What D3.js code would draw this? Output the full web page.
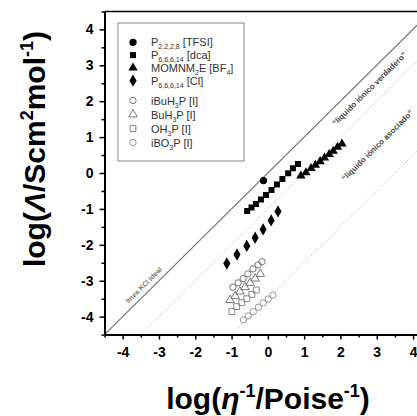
<!DOCTYPE html>
<html>
<head>
<meta charset="utf-8">
<script src="https://cdn.jsdelivr.net/npm/d3@7"></script>
<style>
  body { margin: 0; background: #fff; }
  svg { display: block; font-family: "Liberation Sans", Arial, sans-serif; }
</style>
</head>
<body>
<div id="chart"></div>
<script>
// --- data (log fluidity vs log molar conductivity) ---
const tfsiX = [-0.12];
const tfsiY = [-0.21];
const dcaX = [-0.57, -0.45, -0.33, -0.19, -0.05, 0.10, 0.25, 0.40, 0.56, 0.69, 0.83];
const dcaY = [-1.06, -0.96, -0.86, -0.74, -0.61, -0.47, -0.32, -0.17, -0.01, 0.13, 0.25];
const bf4X = [0.91, 1.05, 1.19, 1.31, 1.44, 1.56, 1.69, 1.80, 1.92, 2.04];
const bf4Y = [-0.08, 0.01, 0.13, 0.22, 0.32, 0.42, 0.52, 0.61, 0.72, 0.81];
const clX = [-1.13, -0.85, -0.58, -0.35, -0.13, 0.09, 0.28];
const clY = [-2.52, -2.27, -2.03, -1.80, -1.57, -1.32, -1.07];
const ibuX = [-0.96, -0.82, -0.68, -0.55, -0.41, -0.27, -0.16];
const ibuY = [-3.18, -3.06, -2.94, -2.81, -2.67, -2.56, -2.47];
const buX = [-1.04, -0.90, -0.77, -0.63, -0.49, -0.35, -0.21];
const buY = [-3.54, -3.43, -3.30, -3.18, -3.06, -2.94, -2.81];
const ohX = [-0.99, -0.86, -0.72, -0.58, -0.44, -0.32];
const ohY = [-3.86, -3.72, -3.61, -3.50, -3.38, -3.26];
const iboX = [-0.67, -0.54, -0.40, -0.26, -0.13, 0.01, 0.14];
const iboY = [-4.09, -3.98, -3.86, -3.74, -3.62, -3.51, -3.40];

// legend labels: [text, subscript?]
const legendLabels = [
  [["P"], ["2,2,2,8", 1], [" [TFSI]"]],
  [["P"], ["6,6,6,14", 1], [" [dca]"]],
  [["MOMNM"], ["2", 1], ["E [BF"], ["4", 1], ["]"]],
  [["P"], ["6,6,6,14", 1], [" [Cl]"]],
  [["iBuH"], ["3", 1], ["P [I]"]],
  [["BuH"], ["3", 1], ["P [I]"]],
  [["OH"], ["3", 1], ["P [I]"]],
  [["iBO"], ["3", 1], ["P [I]"]]
];

const majorTicks = [-4, -3, -2, -1, 0, 1, 2, 3, 4];
const minorTicks = [-4.5, -3.5, -2.5, -1.5, -0.5, 0.5, 1.5, 2.5, 3.5, 4.5];
const lineOffsets = [0, -1, -3.5];   // log Λ = log η⁻¹ + offset
const annotations = [
  {text: "linea KCl ideal", x: -3.42, off: 0.3},
  {text: "\u201cliquido iónico verdadero\u201d", x: 2.8, off: -0.45},
  {text: "\u201cliquido iónico asociado\u201d", x: 3.02, off: -2.25}
];

const W = 417, H = 416;
const svg = d3.select("#chart").append("svg").attr("width", W).attr("height", H);

const x = d3.scaleLinear().domain([-4.5, 4.5]).range([104.5, 431.2]);
const y = d3.scaleLinear().domain([-4.5, 4.5]).range([334.6, 11.4]);

svg.append("clipPath").attr("id", "plot")
  .append("rect").attr("x", x(-4.5)).attr("y", y(4.5))
  .attr("width", x(4.5) - x(-4.5)).attr("height", y(-4.5) - y(4.5));

const plot = svg.append("g").attr("clip-path", "url(#plot)");

// reference lines
lineOffsets.forEach((o, i) => {
  plot.append("line")
    .attr("x1", x(-4.5)).attr("y1", y(-4.5 + o))
    .attr("x2", x(4.5)).attr("y2", y(4.5 + o))
    .attr("stroke", i === 0 ? "#777" : "#aaa")
    .attr("stroke-width", i === 0 ? 1.2 : 1)
    .attr("stroke-dasharray", i === 0 ? null : "1,2");
});

// annotations along the lines
const ang = Math.atan2(y(1) - y(0), x(1) - x(0)) * 180 / Math.PI;
annotations.forEach((a, i) => {
  plot.append("text")
    .attr("transform", `translate(${x(a.x)},${y(a.x + a.off)}) rotate(${ang})`)
    .attr("text-anchor", "middle").attr("dy", "0.35em")
    .attr("font-size", i === 0 ? 7 : 8).attr("font-weight", "bold")
    .attr("fill", i === 0 ? "#777" : "#444")
    .text(a.text);
});

// series
const series = [
  {xs: iboX, ys: iboY, type: d3.symbolCircle, size: 32, fill: "none", stroke: "#999"},
  {xs: ohX, ys: ohY, type: d3.symbolSquare, size: 34, fill: "none", stroke: "#888"},
  {xs: buX, ys: buY, type: d3.symbolTriangle, size: 32, fill: "none", stroke: "#777"},
  {xs: ibuX, ys: ibuY, type: d3.symbolCircle, size: 32, fill: "none", stroke: "#777"},
  {xs: clX, ys: clY, type: d3.symbolDiamond, size: 44, fill: "#000", stroke: "none"},
  {xs: dcaX, ys: dcaY, type: d3.symbolSquare, size: 36, fill: "#000", stroke: "none"},
  {xs: bf4X, ys: bf4Y, type: d3.symbolTriangle, size: 38, fill: "#000", stroke: "none"},
  {xs: tfsiX, ys: tfsiY, type: d3.symbolCircle, size: 42, fill: "#000", stroke: "none"}
];

series.forEach(s => {
  plot.append("g").selectAll("path")
    .data(s.xs.map((v, i) => [v, s.ys[i]]))
    .enter().append("path")
    .attr("transform", d => `translate(${x(d[0])},${y(d[1])})`)
    .attr("d", d3.symbol().type(s.type).size(s.size))
    .attr("fill", s.fill).attr("stroke", s.stroke).attr("stroke-width", 1);
});

// legend
const legendSym = [series[7], series[5], series[6], series[4], series[3], series[2], series[1], series[0]];
const legendRowY = i => i < 4 ? 42.3 + i * 12.8 : 100.5 + (i - 4) * 14;
const lg = svg.append("g");
lg.append("rect").attr("x", 118).attr("y", 23).attr("width", 126).attr("height", 138)
  .attr("fill", "#fff").attr("stroke", "#888").attr("stroke-width", 1);
legendLabels.forEach((parts, i) => {
  const yy = legendRowY(i);
  const s = legendSym[i];
  lg.append("path").attr("transform", `translate(133,${yy})`)
    .attr("d", d3.symbol().type(s.type).size(s.size))
    .attr("fill", s.fill).attr("stroke", s.stroke);
  const t = lg.append("text").attr("x", 151).attr("y", yy + 4)
    .attr("font-size", 11).attr("fill", "#333");
  let shifted = false;
  parts.forEach(p => {
    const ts = t.append("tspan").text(p[0]);
    if (p[1] && !shifted) { ts.attr("dy", 3).attr("font-size", 7); shifted = true; }
    else if (!p[1] && shifted) { ts.attr("dy", -3); shifted = false; }
  });
});

// axes
const fmt = d => String(d);
svg.append("g").attr("transform", `translate(${x(-4.5)},0)`)
  .call(d3.axisLeft(y).tickValues(majorTicks).tickFormat(fmt).tickSize(5).tickSizeOuter(0).tickPadding(6));
svg.append("g").attr("transform", `translate(${x(-4.5)},0)`)
  .call(d3.axisLeft(y).tickValues(minorTicks).tickFormat("").tickSize(3).tickSizeOuter(0));
svg.append("g").attr("transform", `translate(0,${y(-4.5)})`)
  .call(d3.axisBottom(x).tickValues(majorTicks).tickFormat(fmt).tickSize(5).tickSizeOuter(0).tickPadding(7));
svg.append("g").attr("transform", `translate(0,${y(-4.5)})`)
  .call(d3.axisBottom(x).tickValues(minorTicks).tickFormat("").tickSize(3).tickSizeOuter(0));

svg.selectAll(".domain").attr("stroke", "#000").attr("stroke-width", 2);
svg.selectAll(".tick line").attr("stroke", "#000").attr("stroke-width", 1.5);
svg.selectAll(".tick text").attr("font-size", 14).attr("font-weight", "bold")
  .attr("font-family", "'Liberation Sans', Arial, sans-serif").attr("fill", "#000");

// top and right frame
svg.append("line").attr("x1", x(-4.5)).attr("y1", y(4.5)).attr("x2", x(4.5)).attr("y2", y(4.5))
  .attr("stroke", "#000").attr("stroke-width", 1.5);
svg.append("line").attr("x1", x(4.5)).attr("y1", y(4.5)).attr("x2", x(4.5)).attr("y2", y(-4.5))
  .attr("stroke", "#000").attr("stroke-width", 1.5);

// axis titles
const xt = svg.append("text").attr("x", 268).attr("y", 409).attr("text-anchor", "middle")
  .attr("font-size", 30).attr("font-weight", "bold");
xt.append("tspan").text("log(");
xt.append("tspan").attr("font-style", "italic").text("η");
xt.append("tspan").attr("font-size", 18).attr("dy", -12).text("-1");
xt.append("tspan").attr("dy", 12).text("/Poise");
xt.append("tspan").attr("font-size", 18).attr("dy", -12).text("-1");
xt.append("tspan").attr("dy", 12).text(")");

const yt = svg.append("text").attr("transform", "translate(45,149) rotate(-90)")
  .attr("text-anchor", "middle").attr("font-size", 30).attr("font-weight", "bold");
yt.append("tspan").text("log(");
yt.append("tspan").attr("font-style", "italic").text("Λ");
yt.append("tspan").text("/Scm");
yt.append("tspan").attr("font-size", 18).attr("dy", -12).text("2");
yt.append("tspan").attr("dy", 12).text("mol");
yt.append("tspan").attr("font-size", 18).attr("dy", -12).text("-1");
yt.append("tspan").attr("dy", 12).text(")");
</script>
</body>
</html>
